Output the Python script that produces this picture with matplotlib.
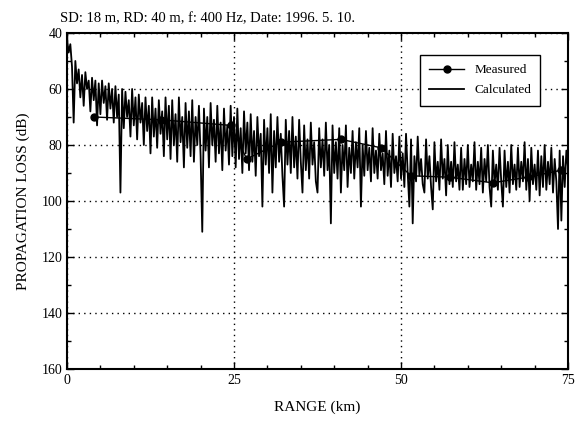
import numpy as np
import matplotlib
matplotlib.use("Agg")
import matplotlib.pyplot as plt
from matplotlib.ticker import MultipleLocator

plt.rcParams['font.family'] = ['Liberation Serif', 'DejaVu Serif']

# measured propagation loss
meas_range = [4, 14, 24.5, 26.9, 32, 41, 47, 51.5, 57.3, 63.7, 69, 74]
meas_loss = [70, 71, 73, 85, 79, 78, 81, 91, 91.5, 93.5, 91.5, 89]

# calculated loss, one value every 0.25 km from 0 to 75 km
calc_loss = [
    42, 47, 44, 52, 72, 50, 58, 53, 63, 55, 66, 54, 60, 57, 68, 56, 64, 57, 73, 58,
    69, 57, 65, 59, 71, 58, 67, 60, 72, 59, 70, 62, 97, 60, 74, 61, 70, 64, 77, 60,
    73, 63, 78, 62, 72, 65, 80, 63, 75, 66, 83, 63, 77, 67, 81, 64, 76, 68, 84, 63,
    78, 66, 85, 64, 80, 69, 86, 63, 79, 70, 88, 65, 81, 68, 84, 64, 86, 70, 80, 66,
    84, 111, 67, 82, 70, 88, 65, 80, 71, 86, 66, 83, 72, 89, 67, 82, 73, 87, 66, 84,
    70, 88, 67, 85, 74, 90, 68, 83, 72, 89, 69, 86, 75, 91, 70, 84, 76, 102, 71, 87,
    74, 90, 69, 97, 75, 88, 70, 86, 76, 91, 102, 71, 87, 75, 90, 70, 88, 77, 92, 71,
    86, 97, 73, 89, 78, 92, 72, 87, 79, 93, 97, 74, 88, 78, 91, 72, 89, 80, 108, 73,
    90, 79, 92, 74, 97, 80, 89, 73, 95, 81, 90, 75, 92, 79, 88, 74, 102, 80, 91, 75,
    89, 81, 93, 74, 90, 82, 92, 76, 89, 83, 94, 75, 91, 82, 95, 76, 90, 84, 93, 77,
    92, 83, 95, 76, 90, 102, 78, 108, 84, 93, 77, 91, 85, 94, 97, 78, 92, 84, 95, 103,
    79, 93, 86, 96, 78, 92, 85, 98, 80, 94, 86, 95, 79, 93, 87, 96, 81, 96, 85, 94,
    80, 95, 87, 93, 79, 96, 86, 94, 81, 97, 85, 93, 80, 95, 102, 82, 94, 87, 96, 81,
    93, 102, 82, 95, 86, 97, 80, 94, 87, 96, 81, 95, 86, 93, 79, 96, 85, 100, 81, 94,
    87, 96, 82, 98, 84, 95, 80, 96, 86, 94, 81, 97, 85, 93, 110, 82, 107, 84, 95, 82,
    88,
]
calc_range = np.linspace(0, 75, len(calc_loss))

fig = plt.figure(figsize=(5.82, 4.25), dpi=100)
ax = fig.add_axes([0.1151, 0.1318, 0.8609, 0.7906])

ax.plot(meas_range, meas_loss, color='black', lw=1.0, marker='o', ms=5,
        label='Measured', zorder=2)
ax.plot(calc_range, calc_loss, color='black', lw=1.3, label='Calculated',
        zorder=3)

ax.set_xlim(0, 75)
ax.set_ylim(160, 40)
ax.xaxis.set_major_locator(MultipleLocator(25))
ax.xaxis.set_minor_locator(MultipleLocator(5))
ax.yaxis.set_major_locator(MultipleLocator(20))
ax.yaxis.set_minor_locator(MultipleLocator(10))
ax.tick_params(which='both', direction='in', top=True, right=True,
               labelsize=10, width=1)
ax.tick_params(which='major', length=5)
ax.tick_params(which='minor', length=3)
for s in ax.spines.values():
    s.set_linewidth(1.5)
ax.grid(True, which='major', color='black', linestyle=(0, (1, 3)), lw=1)

ax.set_xlabel('RANGE (km)', fontsize=11, labelpad=10)
ax.set_ylabel('PROPAGATION LOSS (dB)', fontsize=11, labelpad=8)
fig.text(0.103, 0.972, 'SD: 18 m, RD: 40 m, f: 400 Hz, Date: 1996. 5. 10.',
         fontsize=10.5, va='top', ha='left')

leg = ax.legend(loc='upper right', bbox_to_anchor=(0.958, 0.955),
                fancybox=False, edgecolor='black', fontsize=9.5, framealpha=1,
                handlelength=2.6, borderpad=0.7, labelspacing=0.6)
leg.get_frame().set_linewidth(1.0)
leg.set_zorder(5)

fig.savefig('out.png', dpi=100)
